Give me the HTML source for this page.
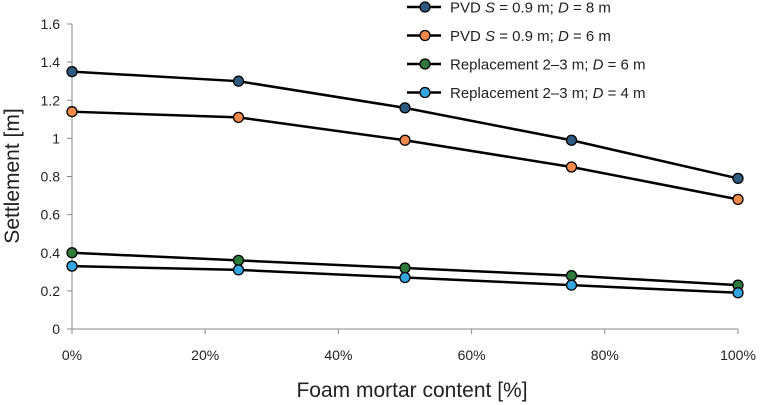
<!DOCTYPE html>
<html><head><meta charset="utf-8"><style>
body{margin:0;background:#fff}
svg{display:block;font-family:"Liberation Sans",sans-serif}
</style></head><body>
<svg id="c" width="767" height="405">
<text x="412" y="397" font-size="21" text-anchor="middle" fill="#222">Foam mortar content [%]</text>
<text transform="translate(19,176) rotate(-90)" font-size="21" text-anchor="middle" fill="#222">Settlement [m]</text>
</svg>
<script>
const categories=[0,25,50,75,100];
const xTickLabels=["0%","20%","40%","60%","80%","100%"];
const xTickValues=[0,20,40,60,80,100];
const yTicks=[0,0.2,0.4,0.6,0.8,1,1.2,1.4,1.6];
const seriesNames=["PVD S = 0.9 m; D = 8 m","PVD S = 0.9 m; D = 6 m","Replacement 2–3 m; D = 6 m","Replacement 2–3 m; D = 4 m"];
const pvd8=[1.35,1.30,1.16,0.99,0.79];
const pvd6=[1.14,1.11,0.99,0.85,0.68];
const rep6=[0.40,0.36,0.32,0.28,0.23];
const rep4=[0.33,0.31,0.27,0.23,0.19];
const colors=["#2f5a7f","#f0894a","#2d7a3a","#33a6df"];
const NS="http://www.w3.org/2000/svg";
const svg=document.getElementById('c');
const X=v=>72+v/100*666;
const Y=v=>329-v/1.6*305;
function mk(t,a,p){const e=document.createElementNS(NS,t);for(const k in a)e.setAttribute(k,a[k]);(p||svg).appendChild(e);return e;}
const ax=mk('line',{x1:72,x2:72,y1:Y(1.6),y2:329,stroke:'#888'});


const bx=mk('line',{x1:72,x2:738,y1:329,y2:329,stroke:'#888'});


yTicks.forEach(v=>{
 mk('line',{x1:67,x2:72,y1:Y(v),y2:Y(v),stroke:'#888'});
 const t=mk('text',{x:60,y:Y(v)+5,'font-size':14,'text-anchor':'end',fill:'#222'});t.textContent=String(v);
 
 
});
xTickValues.forEach((v,i)=>{
 mk('line',{x1:X(v),x2:X(v),y1:329,y2:334,stroke:'#888'});
 const t=mk('text',{x:X(v),y:360,'font-size':14,'text-anchor':'middle',fill:'#222'});t.textContent=xTickLabels[i];
 
 
});
[pvd8,pvd6,rep6,rep4].forEach((s,i)=>{
 const g=mk('g',{});
 
 
 mk('polyline',{points:s.map((v,j)=>X(categories[j])+','+Y(v)).join(' '),fill:'none',stroke:'#000','stroke-width':2.5},g);
 s.forEach((v,j)=>{const c=mk('circle',{cx:X(categories[j]),cy:Y(v),r:5,fill:colors[i],stroke:'#000','stroke-width':1.3},g);
  
  });
 const ly=7+i*28.5;
 const lg=mk('g',{});
 
 
 mk('line',{x1:407,x2:441,y1:ly,y2:ly,stroke:'#000','stroke-width':2.5},lg);
 mk('circle',{cx:425,cy:ly,r:5,fill:colors[i],stroke:'#000','stroke-width':1.3},lg);
 const t=mk('text',{x:450,y:ly+5.5,'font-size':15,fill:'#222'},lg);
 const parts=seriesNames[i].split(/(S(?= =)|D(?= =))/);
 parts.forEach(p=>{if(!p)return;const ts=mk('tspan',{},t);ts.textContent=p;if(p==='S'||p==='D')ts.setAttribute('font-style','italic');});
});
</script>
</body></html>
